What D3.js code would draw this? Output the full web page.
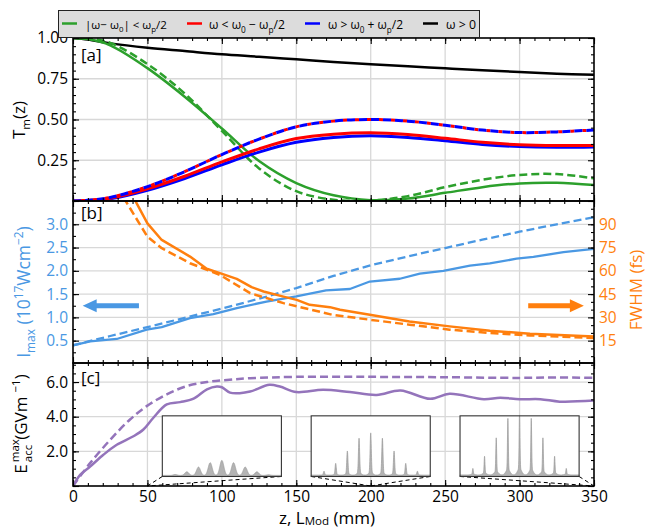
<!DOCTYPE html>
<html><head><meta charset="utf-8">
<script src="https://cdn.jsdelivr.net/npm/d3@7"></script>
<style>body{margin:0;background:#fff} svg{display:block} text{font-family:"Open Sans",sans-serif}</style>
</head><body><svg id="c" width="647" height="527"></svg>
<script>
// ---------------- DATA ----------------
const zA = [0,10,25,50,75,100,125,150,175,200,225,250,275,300,325,350];
const tAll       = [1.0,0.99,0.967,0.94,0.92,0.90,0.885,0.869,0.853,0.839,0.826,0.814,0.802,0.791,0.781,0.774];
const tMidSolid  = [1.0,0.993,0.955,0.815,0.64,0.445,0.245,0.11,0.035,0.005,0.015,0.05,0.085,0.108,0.112,0.098];
const tMidDashed = [1.0,0.997,0.97,0.84,0.66,0.43,0.2,0.06,0.008,0.003,0.03,0.085,0.13,0.16,0.165,0.139];
const tLowSolid  = [0,0.003,0.017,0.075,0.152,0.24,0.32,0.383,0.41,0.419,0.408,0.385,0.36,0.345,0.34,0.341];
const tHighSolid = [0,0.003,0.014,0.066,0.138,0.222,0.30,0.36,0.39,0.40,0.39,0.37,0.347,0.334,0.33,0.332];
const tSideDashed= [0,0.004,0.022,0.088,0.18,0.285,0.38,0.455,0.49,0.50,0.49,0.465,0.435,0.42,0.424,0.436];

const zImaxS = [0,11.5,29.4,49.5,59.6,78.6,94.3,110,130,150,170,186,199.4,219.6,233,248.8,266.7,280,298,309.3,329.5,350];
const imaxS  = [0.40,0.485,0.536,0.735,0.79,0.985,1.07,1.2,1.34,1.45,1.58,1.61,1.77,1.83,1.94,2.0,2.11,2.16,2.26,2.3,2.4,2.47];
const zImaxD = [0,25,50,75,100,125,150,175,200,225,250,275,300,325,350];
const imaxD  = [0.40,0.60,0.79,0.99,1.19,1.40,1.63,1.89,2.12,2.31,2.49,2.67,2.84,3.0,3.15];

const zFwhmS = [36,41.6,50,59.6,78.6,89.8,98.7,110,120,128,141.4,150.3,159,172.6,179.4,199.4,226,253,280,307,350];
const fwhmS  = [115,105.6,90.6,79.9,69.2,61.3,58.5,54.8,49.5,46.7,43.4,41.3,38.1,36.6,34.9,31.7,27.4,24.2,21.4,19.5,17.7];
const zFwhmD = [30,35,50,59.6,78.6,98.7,119,141.4,175,199.4,226,253,280,307,350];
const fwhmD  = [114,105.6,82,74.6,64.9,57.4,45.6,39.2,31.5,28.5,25.3,22.1,19.9,18.4,16.7];

const zEs = [0,4.8,11.5,20.4,29.4,40.6,47.3,54,63,72,81,90,96.6,100,105.5,112,119,132,139,150,168,186,204,220,240,253,276,287,300,314,327,350];
const eS  = [0,0.64,1.12,1.8,2.38,2.87,3.26,3.94,4.71,4.84,5.04,5.58,5.74,5.7,5.39,5.36,5.45,5.84,5.74,5.42,5.55,5.42,5.26,5.51,5.03,5.32,5.01,5.1,5.01,5.01,4.87,4.93];
const zEd = [0,11.5,25,38.3,49.5,63,76.5,90,103.5,119,150,200,250,300,325,350];
const eD  = [0,1.32,2.67,3.84,4.61,5.29,5.77,6.0,6.12,6.22,6.3,6.3,6.28,6.24,6.27,6.24];

// insets: spectra at z = 50, 200, 350 (harmonic index -4..4, relative peak heights)
const insetZ = [50,200,350];
const harmonics = [-4,-3,-2,-1,0,1,2,3,4];
const insetPeaks = [
  [0.033,0.077,0.155,0.227,0.265,0.227,0.155,0.077,0.028],
  [0.082,0.202,0.393,0.59,0.672,0.59,0.393,0.202,0.082],
  [0.12,0.30,0.574,0.863,1.0,0.863,0.574,0.30,0.12]
];
const insetSigma = [0.17,0.05,0.035];
const insetFloor = [0.017,0.022,0.025];
const insetPedestal = [0,0.07,0.11];

const xTickVals = [0,50,100,150,200,250,300,350];

// ---------------- LAYOUT ----------------
const svg = d3.select('#c');
const FS = 15.5;
const x  = d3.scaleLinear().domain([0,350]).range([73,594]);
const yA = d3.scaleLinear().domain([0,1]).range([201,38]);
const yB = d3.scaleLinear().domain([0.02,3.5]).range([363,201]);
const yB2= d3.scaleLinear().domain([0.6,105]).range([363,201]);
const yC = d3.scaleLinear().domain([0,7.1]).range([486,363]);
const panels = [{y0:38,y1:201,id:'a'},{y0:201,y1:363,id:'b'},{y0:363,y1:486,id:'c'}];

const defs = svg.append('defs');
panels.forEach(p=>{
  defs.append('clipPath').attr('id','clip'+p.id).append('rect')
    .attr('x',73).attr('y',p.y0).attr('width',594-73).attr('height',p.y1-p.y0);
});

const COL = {green:'#2ca02c', red:'#ff0000', blue:'#0000ff', black:'#000', lb:'#4a98e3', orange:'#ff7f0e', purple:'#9474bb'};

// grid
const grid = svg.append('g').attr('stroke','#d8d8d8').attr('stroke-width',1.3);
panels.forEach(p=>{
  [50,100,150,200,250,300].forEach(v=>grid.append('line').attr('x1',x(v)).attr('x2',x(v)).attr('y1',p.y0).attr('y2',p.y1));
});
[0.25,0.5,0.75].forEach(v=>grid.append('line').attr('x1',73).attr('x2',594).attr('y1',yA(v)).attr('y2',yA(v)));
[0.5,1,1.5,2,2.5,3].forEach(v=>grid.append('line').attr('x1',73).attr('x2',594).attr('y1',yB(v)).attr('y2',yB(v)));
[2,4,6].forEach(v=>grid.append('line').attr('x1',73).attr('x2',594).attr('y1',yC(v)).attr('y2',yC(v)));

function drawLine(clip, xs, ys, ys2, color, w, dash, curve, offset){
  const pts = xs.map((d,i)=>[d,ys[i]]);
  const gen = d3.line().x(d=>x(d[0])).y(d=>ys2(d[1])).curve(curve||d3.curveCatmullRom.alpha(0.5));
  const p = svg.append('path').attr('clip-path','url(#clip'+clip+')').attr('d',gen(pts))
    .attr('fill','none').attr('stroke',color).attr('stroke-width',w)
    .attr('stroke-linejoin','round');
  if(dash){p.attr('stroke-dasharray',dash); if(offset) p.attr('stroke-dashoffset',offset);}
  return p;
}

// panel a
drawLine('a', zA, tAll, yA, COL.black, 2.5);
drawLine('a', zA, tMidSolid, yA, COL.green, 2.5);
drawLine('a', zA, tMidDashed, yA, COL.green, 2.5, '8,4');
drawLine('a', zA, tHighSolid, yA, COL.blue, 3);
drawLine('a', zA, tLowSolid, yA, COL.red, 3);
drawLine('a', zA, tSideDashed, yA, COL.red, 3, '4,8', null, -8);
drawLine('a', zA, tSideDashed, yA, COL.blue, 3, '8,4');

// panel b
drawLine('b', zImaxD, imaxD, yB, COL.lb, 2.3, '8,4', d3.curveLinear);
drawLine('b', zImaxS, imaxS, yB, COL.lb, 2.3, null, d3.curveLinear);
drawLine('b', zFwhmD, fwhmD, yB2, COL.orange, 2.5, '8,4', d3.curveLinear);
drawLine('b', zFwhmS, fwhmS, yB2, COL.orange, 2.5, null, d3.curveLinear);

// arrows
function arrow(z0, z1, v, color){
  const xa=x(z0), xb=x(z1), yv=yB(v), dir = Math.sign(xb-xa), head=14;
  const xh = xb - dir*head;
  const d = `M${xa},${yv-2.6}L${xh},${yv-2.6}L${xh},${yv-6.5}L${xb},${yv}L${xh},${yv+6.5}L${xh},${yv+2.6}L${xa},${yv+2.6}Z`;
  svg.append('path').attr('d',d).attr('fill',color);
}
arrow(44.3, 6.5, 1.25, COL.lb);
arrow(305.8, 343.2, 1.25, COL.orange);

// panel c
drawLine('c', zEd, eD, yC, COL.purple, 2.5, '8,4');
drawLine('c', zEs, eS, yC, COL.purple, 2.5);

// insets
insetZ.forEach((zf,i)=>{
  const bx0 = x(60+100*i), bx1 = x(140+100*i), by0 = yC(4.05), by1 = yC(0.55);
  const g = svg.append('g');
  [bx0,bx1].forEach(bx=>g.append('line').attr('x1',bx).attr('y1',by1).attr('x2',x(zf)).attr('y2',yC(0))
     .attr('stroke','#000').attr('stroke-width',1).attr('stroke-dasharray','4,3'));
  g.append('rect').attr('x',bx0).attr('y',by0).attr('width',bx1-bx0).attr('height',by1-by0).attr('fill','#fff');
  const sx = d3.scaleLinear().domain([-5.1,5.1]).range([bx0,bx1]);
  const sy = d3.scaleLinear().domain([0,1]).range([by1,by0]);
  const s = insetSigma[i];
  const pts = d3.range(-5.1,5.1001,0.01).map(h=>{
    let v = insetFloor[i];
    harmonics.forEach((k,j)=>{
      const a = insetPeaks[i][j]-insetFloor[i];
      v += a*Math.exp(-((h-k)**2)/(2*s*s));
      v += insetPedestal[i]*insetPeaks[i][j]*Math.exp(-((h-k)**2)/(2*0.17*0.17));
    });
    return [h, Math.min(v,1)];
  });
  g.append('path').attr('d', d3.area().x(d=>sx(d[0])).y0(sy(0)).y1(d=>sy(d[1]))(pts))
    .attr('fill','#b3b3b3').attr('stroke','#999').attr('stroke-width',0.7);
  g.append('rect').attr('x',bx0).attr('y',by0).attr('width',bx1-bx0).attr('height',by1-by0)
    .attr('fill','none').attr('stroke','#333').attr('stroke-width',1.1);
});

// ---------------- AXES / TICKS ----------------
function styleAx(g, color){
  g.select('.domain').remove();
  g.selectAll('line').attr('stroke','#000').attr('stroke-width',1.1);
  g.selectAll('text').attr('font-family','"Open Sans",sans-serif').attr('font-size',FS).attr('fill',color||'#000');
  g.attr('font-family',null).attr('font-size',null);
}
const minorX = d3.range(0,351,10);
panels.forEach(p=>{
  let g = svg.append('g').attr('transform',`translate(0,${p.y1})`);
  g.call(d3.axisBottom(x).tickValues(xTickVals).tickSize(-6).tickPadding(5).tickFormat(p.id==='c'?d3.format('d'):''));
  styleAx(g);
  g = svg.append('g').attr('transform',`translate(0,${p.y1})`);
  g.call(d3.axisBottom(x).tickValues(minorX).tickSize(-3).tickFormat('')); styleAx(g);
  g = svg.append('g').attr('transform',`translate(0,${p.y0})`);
  g.call(d3.axisTop(x).tickValues(xTickVals).tickSize(-6).tickFormat('')); styleAx(g);
  g = svg.append('g').attr('transform',`translate(0,${p.y0})`);
  g.call(d3.axisTop(x).tickValues(minorX).tickSize(-3).tickFormat('')); styleAx(g);
});
function yAxes(scale, major, minor, fmt, color, labelVals){
  let g = svg.append('g').attr('transform','translate(73,0)');
  g.call(d3.axisLeft(scale).tickValues(major).tickSize(-6).tickPadding(5).tickFormat(d=>labelVals.includes(d)?d3.format(fmt)(d):''));
  styleAx(g, color);
  g = svg.append('g').attr('transform','translate(73,0)');
  g.call(d3.axisLeft(scale).tickValues(minor).tickSize(-3).tickFormat('')); styleAx(g);
}
function yRight(scale, major, minor, fmt, color){
  let g = svg.append('g').attr('transform','translate(594,0)');
  g.call(d3.axisRight(scale).tickValues(major).tickSize(-6).tickPadding(5).tickFormat(fmt?d3.format(fmt):''));
  styleAx(g, color);
  g = svg.append('g').attr('transform','translate(594,0)');
  g.call(d3.axisRight(scale).tickValues(minor).tickSize(-3).tickFormat('')); styleAx(g);
}
yAxes(yA, [0,0.25,0.5,0.75,1], d3.range(0,1.001,0.05), '.2f', '#000', [0.25,0.5,0.75,1]);
yRight(yA, [0,0.25,0.5,0.75,1], d3.range(0,1.001,0.05), null);
yAxes(yB, [0.5,1,1.5,2,2.5,3], d3.range(0.25,3.5,0.25), '.1f', COL.lb, [0.5,1,1.5,2,2.5,3]);
yRight(yB2, [15,30,45,60,75,90], d3.range(5,105,5), 'd', COL.orange);
yAxes(yC, [0,2,4,6], d3.range(0,7.1,0.5), '.1f', '#000', [2,4,6]);
yRight(yC, [0,2,4,6], d3.range(0,7.1,0.5), null);

panels.forEach(p=>svg.append('rect').attr('x',73).attr('y',p.y0).attr('width',594-73).attr('height',p.y1-p.y0)
  .attr('fill','none').attr('stroke','#000').attr('stroke-width',1.6));

// ---------------- TEXT ----------------
function rich(t, parts, fs, subOff){
  let cur = 0;
  parts.forEach(p=>{
    const off = p.sub ? fs*(subOff||0.3) : p.sup ? -fs*0.42 : 0;
    const ts = t.append('tspan').attr('dy', off-cur).attr('font-size', (p.sub||p.sup)? fs*0.68 : fs).text(p.t);
    if(p.dx) ts.attr('dx', p.dx);
    cur = off;
  });
  return t;
}
[['[a]',61],['[b]',219],['[c]',384]].forEach(([s,yy])=>svg.append('text').attr('x',81).attr('y',yy).attr('font-size',17).text(s));

// legend
svg.append('rect').attr('x',58.5).attr('y',10.5).attr('width',421).attr('height',27).attr('fill','#dcdcdc').attr('stroke','#222').attr('stroke-width',1);
const leg = [
  {c:COL.green, lx:62, tx:85, w:82, parts:[{t:'|ω− ω'},{t:'0',sub:1},{t:'| < ω'},{t:'p',sub:1},{t:'/2'}]},
  {c:COL.red, lx:187, tx:209, w:76, parts:[{t:'ω < ω'},{t:'0',sub:1},{t:' − ω'},{t:'p',sub:1},{t:'/2'}]},
  {c:COL.blue, lx:305, tx:328, w:75, parts:[{t:'ω > ω'},{t:'0',sub:1},{t:' + ω'},{t:'p',sub:1},{t:'/2'}]},
  {c:COL.black, lx:423, tx:446, w:30, parts:[{t:'ω > 0'}]}
];
leg.forEach(l=>{
  svg.append('line').attr('x1',l.lx).attr('x2',l.lx+15).attr('y1',23.5).attr('y2',23.5).attr('stroke',l.c).attr('stroke-width',2.5);
  let fs = 14.5;
  let t = rich(svg.append('text').attr('x',l.tx).attr('y',29), l.parts, fs);
  const len = t.node().getComputedTextLength();
  if(len > l.w){
    t.remove();
    fs = fs*l.w/len;
    rich(svg.append('text').attr('x',l.tx).attr('y',29), l.parts, fs);
  }
});

// axis titles
rich(svg.append('text').attr('text-anchor','middle').attr('font-family','"Liberation Sans",sans-serif')
  .attr('transform','translate(327,523.5)'),
  [{t:'z, L'},{t:'Mod',sub:1},{t:' (mm)'}], 17, 0.07);
rich(svg.append('text').attr('text-anchor','middle').attr('transform','translate(25,120) rotate(-90)'),
  [{t:'T'},{t:'m',sub:1},{t:'(z)'}], 17);
rich(svg.append('text').attr('text-anchor','middle').attr('fill',COL.lb).attr('transform','translate(30,292) rotate(-90)'),
  [{t:'I'},{t:'max',sub:1},{t:'  (10'},{t:'17',sup:1},{t:'Wcm'},{t:'−2',sup:1},{t:')'}], 17.5);
svg.append('text').attr('text-anchor','middle').attr('fill',COL.orange).attr('font-size',17)
  .attr('transform','translate(642,290) rotate(-90)').text('FWHM  (fs)');
(function(){
  const t = svg.append('text').attr('transform','translate(27,424) rotate(-90)').attr('font-size',17).attr('text-anchor','start');
  t.append('tspan').text('E');
  const m = t.append('tspan').attr('font-size',11.5).attr('dx',2).attr('dy',-8).text('max');
  const ml = m.node().getComputedTextLength();
  t.append('tspan').attr('font-size',11.5).attr('dx',-ml).attr('dy',13).text('acc');
  t.append('tspan').attr('dy',-5).attr('dx',5).text('(GVm');
  t.append('tspan').attr('font-size',11.5).attr('dy',-7).attr('dx',4).text('−1');
  t.append('tspan').attr('dy',7).text(')');
  const bb = t.node().getBBox();
  t.attr('transform',`translate(27,${424+bb.width/2}) rotate(-90)`);
})();
</script></body></html>
